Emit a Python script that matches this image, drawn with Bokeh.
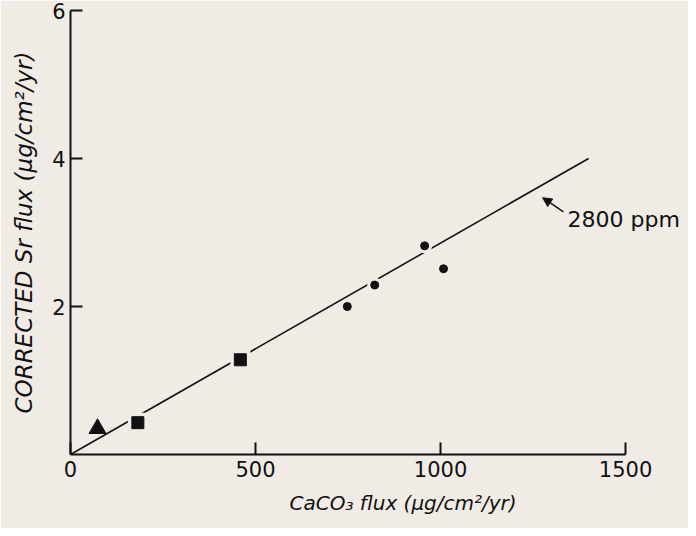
from bokeh.plotting import figure
from bokeh.models import Range1d, FixedTicker, Arrow, NormalHead, Title
from bokeh.core.properties import value
from bokeh.embed import file_html
from bokeh.resources import INLINE

# ---- data ----
tri_x = [73]
tri_y = [0.35]
sq_x = [182, 459]
sq_y = [0.43, 1.28]
dot_x = [748, 822, 957, 1008]
dot_y = [2.00, 2.29, 2.82, 2.51]
fit_x = [0, 1400]
fit_y = [0.0, 4.0]
x_ticks = [0, 500, 1000, 1500]
y_ticks = [2, 4, 6]
note_text = ["2800 ppm"]
note_x = [1343]
note_y = [3.18]
arrow_tail = (1332, 3.28)
arrow_tip = (1276, 3.47)
x_title = "CaCO\u2083 flux (\u03bcg/cm\u00b2/yr)"
y_title = "CORRECTED Sr flux (\u03bcg/cm\u00b2/yr)"

BG = "#f0ebe4"
INK = "#111111"
FONT = "DejaVu Sans"

p = figure(width=688, height=528, output_backend="svg", toolbar_location=None,
           x_range=Range1d(0, 1670), y_range=Range1d(0, 6),
           min_border_left=70, min_border_right=0, min_border_top=10, min_border_bottom=74)
p.background_fill_color = BG
p.border_fill_color = BG
p.outline_line_color = None
p.grid.visible = False

# fitted line
p.line(fit_x, fit_y, line_color=INK, line_width=1.6)
# halos that break the line around markers
p.scatter(sq_x, sq_y, marker="square", size=20, fill_color=BG, line_color=None)
p.scatter(dot_x, dot_y, marker="circle", size=15, fill_color=BG, line_color=None)
# markers
p.scatter(tri_x, tri_y, marker="triangle", size=17, fill_color=INK, line_color=INK)
p.scatter(sq_x, sq_y, marker="square", size=12, fill_color=INK, line_color=INK)
p.scatter(dot_x, dot_y, marker="circle", size=8, fill_color=INK, line_color=INK)

# annotation
p.text(x=note_x, y=note_y, text=note_text, text_font=value(FONT), text_font_size="22px",
       text_color=INK, text_align="left", text_baseline="middle")
p.add_layout(Arrow(end=NormalHead(size=9, fill_color=INK, line_color=INK),
                   x_start=arrow_tail[0], y_start=arrow_tail[1],
                   x_end=arrow_tip[0], y_end=arrow_tip[1],
                   line_color=INK, line_width=1.5))

for ax in (p.xaxis[0], p.yaxis[0]):
    ax.axis_line_color = INK
    ax.axis_line_width = 2
    ax.major_tick_line_color = INK
    ax.major_tick_line_width = 2
    ax.minor_tick_line_color = None
    ax.major_label_text_font = FONT
    ax.major_label_text_font_size = "21px"
    ax.major_label_text_color = INK
    ax.axis_label_text_font = FONT
    ax.axis_label_text_font_style = "italic"
    ax.axis_label_text_color = INK

p.xaxis[0].ticker = FixedTicker(ticks=x_ticks)
p.xaxis[0].bounds = (0, 1500)
p.xaxis[0].major_tick_in = 12
p.xaxis[0].major_tick_out = 0
p.xaxis[0].major_label_standoff = 6

p.yaxis[0].ticker = FixedTicker(ticks=y_ticks)
p.yaxis[0].bounds = (0, 6)
p.yaxis[0].major_tick_in = 12
p.yaxis[0].major_tick_out = 0
p.yaxis[0].major_label_standoff = 5
p.yaxis[0].major_label_orientation = "horizontal"
p.yaxis[0].axis_label = y_title
p.yaxis[0].axis_label_text_font_size = "23px"
p.yaxis[0].axis_label_standoff = 12

p.add_layout(Title(text=x_title, align="left", offset=219, standoff=18,
                   text_font=FONT, text_font_style="italic", text_font_size="20px",
                   text_color=INK), "below")

open("out.html", "w").write(file_html(p, INLINE))
